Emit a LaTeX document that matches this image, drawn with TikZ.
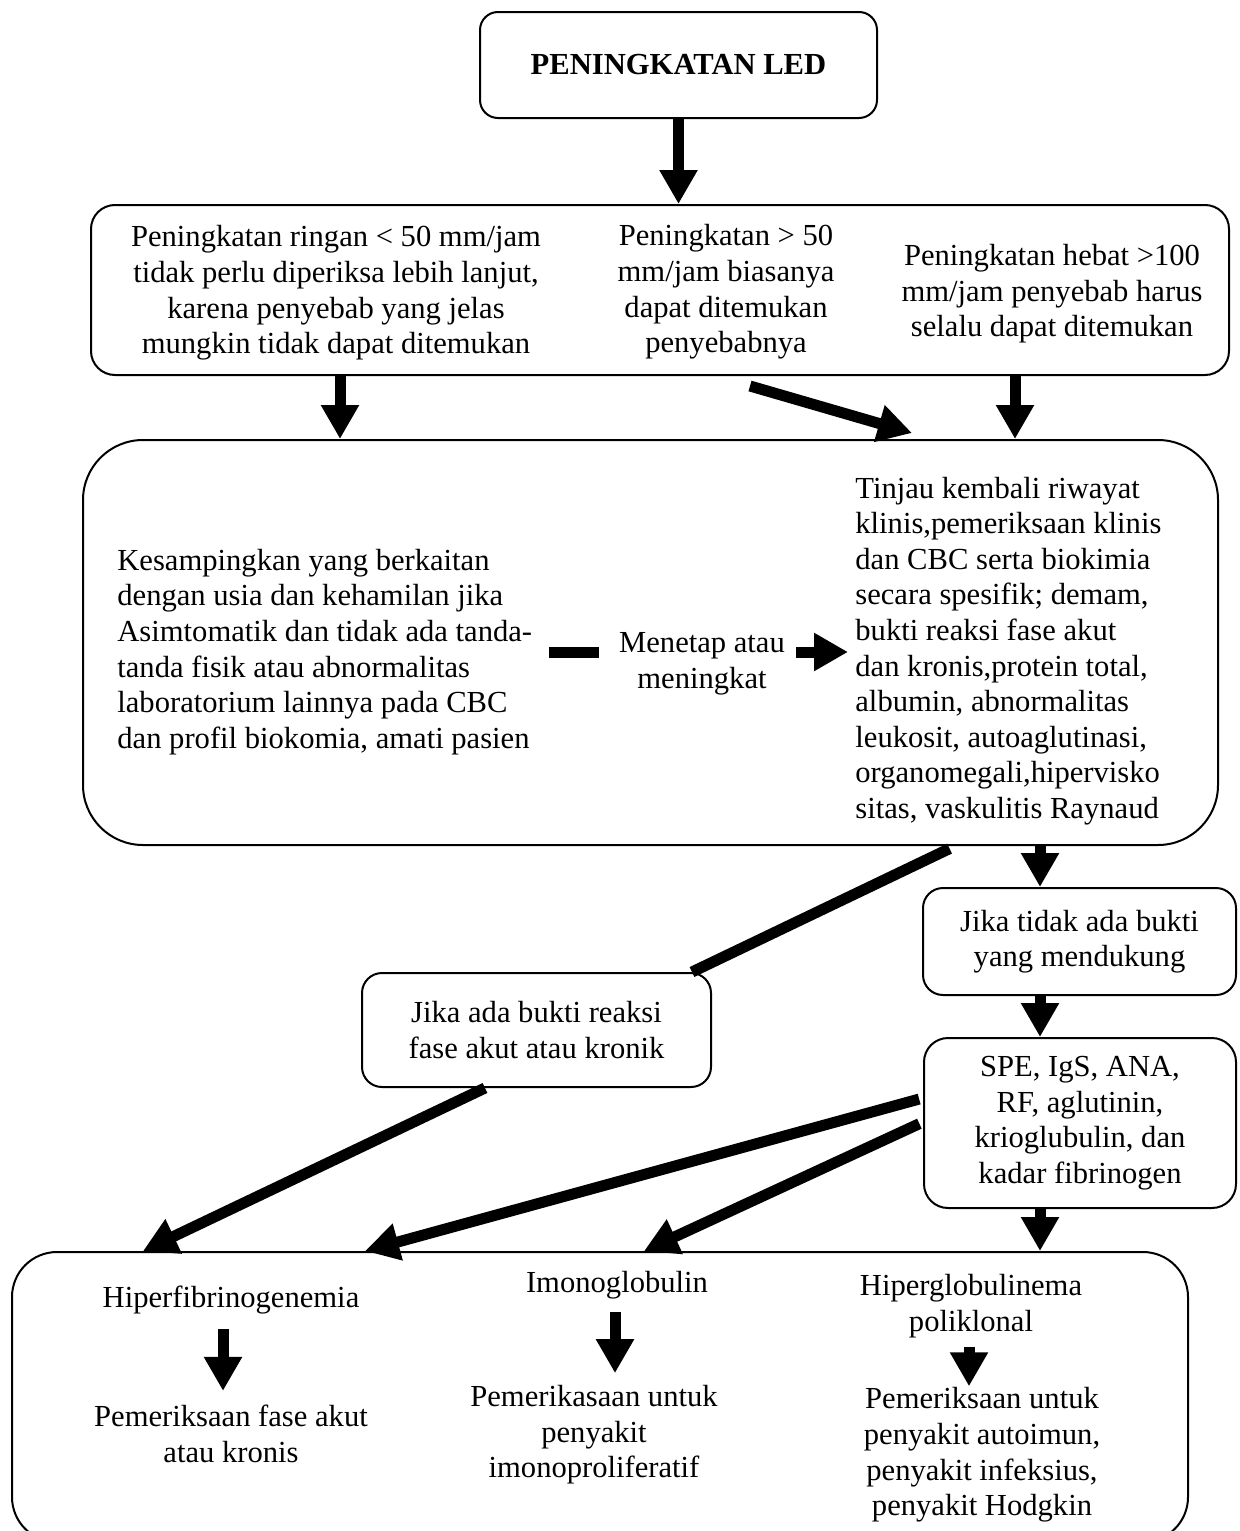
\documentclass[tikz,border=0pt]{standalone}
\usepackage{fontspec}
\setmainfont{Liberation Serif}
\usetikzlibrary{arrows.meta}

\tikzset{
  kotak/.style={draw, line width=1pt, rounded corners=#1, inner sep=0pt},
  kotak/.default=10pt,
  teks/.style={inner sep=0pt, align=center, font=\fontsize{15.3}{17.8}\selectfont},
  panah/.style={line width=5.5pt, -{Triangle[length=17pt, width=18pt]}},
  tebal/.style={line width=5.5pt},
}

\begin{document}
\begin{tikzpicture}[x=0.5pt, y=-0.5pt]
  \useasboundingbox (0,0) rectangle (1239,1531);
  \clip (0,0) rectangle (1239,1531);

  % kotak utama
  \node[kotak=9pt, teks, minimum width=198.5pt, minimum height=53pt] (led) at (678.5,65) {\textbf{PENINGKATAN LED}};
  \node[kotak=12pt, minimum width=569pt, minimum height=85pt] (naik) at (660,290) {};
  \node[kotak=30pt, minimum width=567.5pt, minimum height=202.5pt] (tinjau) at (650.5,642.5) {};
  \node[kotak, teks, minimum width=156.5pt, minimum height=53.5pt] (tidakbukti) at (1079.5,941.5) {Jika tidak ada bukti\\yang mendukung};
  \node[kotak=12pt, teks, minimum width=156pt, minimum height=85pt] (spe) at (1080,1123) {SPE, IgS, ANA,\\RF, aglutinin,\\krioglubulin, dan\\kadar fibrinogen};
  \node[kotak, teks, minimum width=174.5pt, minimum height=57pt] (adabukti) at (536.5,1030) {Jika ada bukti reaksi\\fase akut atau kronik};
  \node[kotak=22.5pt, minimum width=588pt, minimum height=145pt] (hasil) at (600,1397) {};

  % teks di dalam kotak besar
  \node[teks] (kol1) at (336,293) {Peningkatan ringan < 50 mm/jam\\tidak perlu diperiksa lebih lanjut,\\karena penyebab yang jelas\\mungkin tidak dapat ditemukan};
  \node[teks] (kol2) at (726,292) {Peningkatan > 50\\mm/jam biasanya\\dapat ditemukan\\penyebabnya};
  \node[teks] (kol3) at (1052,294) {Peningkatan hebat >100\\mm/jam penyebab harus\\selalu dapat ditemukan};
  \node[teks, anchor=west, align=left] (kiri) at (117,652) {Kesampingkan yang berkaitan\\dengan usia dan kehamilan jika\\Asimtomatik dan tidak ada tanda-\\tanda fisik atau abnormalitas\\laboratorium lainnya pada CBC\\dan profil biokomia, amati pasien};
  \node[teks] (menetap) at (702,664) {Menetap atau\\meningkat};
  \node[teks, anchor=west, align=left] (kanan) at (855,651) {Tinjau kembali riwayat\\klinis,pemeriksaan klinis\\dan CBC serta biokimia\\secara spesifik; demam,\\bukti reaksi fase akut\\dan kronis,protein total,\\albumin, abnormalitas\\leukosit, autoaglutinasi,\\organomegali,hipervisko\\sitas, vaskulitis Raynaud};
  \node[teks] (hfib) at (231,1300) {Hiperfibrinogenemia};
  \node[teks] (pfase) at (231,1434) {Pemeriksaan fase akut\\atau kronis};
  \node[teks] (imono) at (617,1285) {Imonoglobulin};
  \node[teks] (pimono) at (594,1435) {Pemerikasaan untuk\\penyakit\\imonoproliferatif};
  \node[teks] (hglob) at (971,1306) {Hiperglobulinema\\poliklonal};
  \node[teks] (pglob) at (982,1455) {Pemeriksaan untuk\\penyakit autoimun,\\penyakit infeksius,\\penyakit Hodgkin};

  \coordinate (m1) at (750,386);
  \coordinate (m2) at (912,433);

  % panah
  \draw[panah] (led.south) -- (led.south |- naik.north);
  \draw[panah] (naik.south -| 340,0) -- (tinjau.north -| 340,0);
  \draw[panah] (m1) -- (m2);
  \draw[panah] (naik.south -| 1015,0) -- (tinjau.north -| 1015,0);
  \draw[tebal, shorten <=8.5pt, shorten >=10pt] (kiri.east) -- (kiri.east -| menetap.west);
  \draw[panah, shorten <=5.5pt, shorten >=3.5pt] (menetap.east |- kiri.east) -- (kanan.west |- kiri.east);
  \draw[tebal, shorten <=3pt] (tinjau.south -| 955,0) -- ([xshift=-10pt]adabukti.north east);
  \draw[panah] (tinjau.south -| 1040,0) -- (tidakbukti.north -| 1040,0);
  \draw[panah] (tidakbukti.south -| 1040,0) -- (spe.north -| 1040,0);
  \draw[panah] (spe.south -| 1040,0) -- (hasil.north -| 1040,0);
  \draw[panah] (adabukti.south -| 485,0) -- (hasil.north -| 143,0);
  \draw[panah, shorten <=2pt] (spe.west |- 0,1098) -- (hasil.north -| 365,0);
  \draw[panah, shorten <=2pt] (spe.west |- 0,1122) -- (hasil.north -| 644,0);
  \draw[panah, shorten <=7.5pt, shorten >=7pt] (hfib.south -| 223,0) -- (pfase.north -| 223,0);
  \draw[panah, shorten <=6.5pt, shorten >=6pt] (imono.south -| 615,0) -- (pimono.north -| 615,0);
  \draw[panah, shorten <=4.5pt, shorten >=0.5pt] (hglob.south -| 969,0) -- (pglob.north -| 969,0);
\end{tikzpicture}
\end{document}
